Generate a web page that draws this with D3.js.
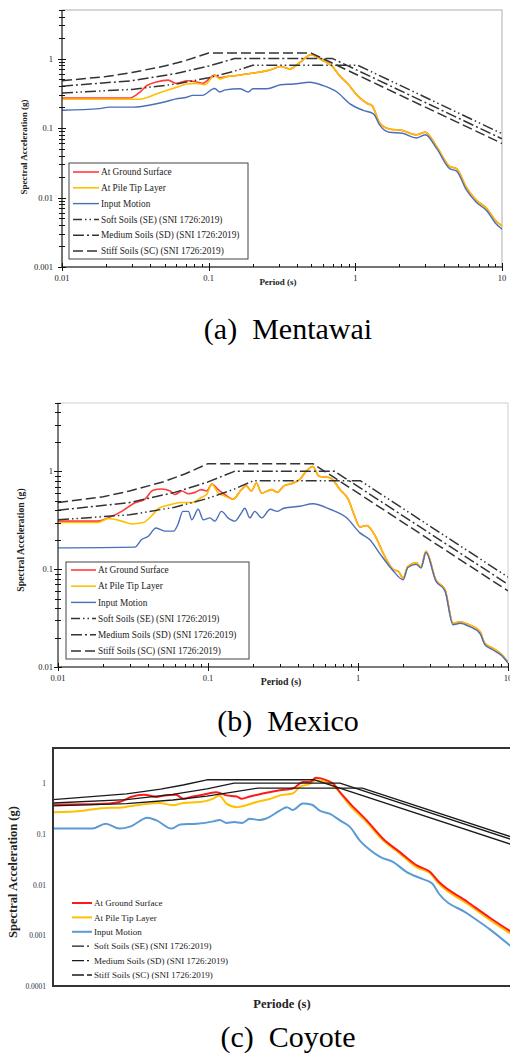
<!DOCTYPE html>
<html>
<head>
<meta charset="utf-8">
<script src="https://cdn.jsdelivr.net/npm/d3@7"></script>
<style>
  body { margin: 0; background: #fff; }
  svg { display: block; }
  text { font-family: "Liberation Serif", "Tinos", "DejaVu Serif", serif; }
</style>
</head>
<body>
<script>
// ---- data: [period (s), spectral acceleration (g)] ----
var mentawaiSurface = [[0.01,0.27],[0.029,0.27],[0.034,0.33],[0.038,0.41],[0.044,0.46],[0.053,0.49],[0.06,0.44],[0.072,0.48],[0.083,0.46],[0.091,0.44],[0.11,0.58],[0.119,0.53],
  [0.133,0.55],[0.155,0.57],[0.18,0.6],[0.22,0.635],[0.25,0.67],[0.275,0.71],[0.31,0.77],[0.36,0.71],[0.42,0.885],[0.5,1.14],[0.6,0.94],[0.69,0.79],[0.78,0.57],[0.89,0.43],[1.04,0.29],[1.2,0.227],[1.3,0.21],[1.47,0.117],[1.7,0.097],[2.1,0.092],[2.6,0.08],[3.0,0.087],[3.6,0.053],[4.4,0.028],[4.9,0.026],[5.7,0.0141],[6.7,0.0091],[7.9,0.0069],[9.0,0.0047],[10,0.0039]];
var mentawaiPileTip = [[0.01,0.26],[0.03,0.26],[0.034,0.26],[0.038,0.275],[0.044,0.31],[0.052,0.35],[0.06,0.385],[0.071,0.43],[0.083,0.44],[0.094,0.42],[0.11,0.57],[0.119,0.51],
  [0.133,0.55],[0.155,0.57],[0.18,0.6],[0.22,0.635],[0.25,0.67],[0.275,0.71],[0.31,0.77],[0.36,0.71],[0.42,0.885],[0.5,1.14],[0.6,0.94],[0.69,0.79],[0.78,0.57],[0.89,0.43],[1.04,0.29],[1.2,0.227],[1.3,0.21],[1.47,0.117],[1.7,0.097],[2.1,0.092],[2.6,0.08],[3.0,0.087],[3.6,0.053],[4.4,0.028],[4.9,0.026],[5.7,0.0141],[6.7,0.0091],[7.9,0.0069],[9.0,0.0047],[10,0.0039]];
var mentawaiInput = [[0.01,0.18],[0.018,0.19],[0.021,0.2],[0.031,0.2],[0.04,0.215],[0.049,0.235],[0.06,0.263],[0.071,0.277],[0.078,0.295],[0.09,0.295],[0.11,0.37],[0.119,0.33],[0.13,0.354],[0.164,0.367],[0.186,0.33],[0.2,0.367],[0.25,0.367],[0.31,0.42],[0.38,0.43],[0.49,0.456],[0.6,0.41],[0.75,0.33],[0.92,0.223],[1.13,0.18],[1.33,0.16],[1.47,0.109],[1.7,0.087],[2.1,0.084],[2.6,0.072],[3.0,0.08],[3.6,0.05],[4.4,0.026],[4.9,0.024],[5.7,0.013],[6.7,0.0085],[7.9,0.0064],[9.0,0.0043],[10,0.0035]];

var mexicoSurface = [[0.01,0.31],[0.0185,0.31],[0.0216,0.335],[0.0266,0.39],[0.0326,0.477],[0.038,0.52],[0.043,0.64],[0.049,0.66],[0.056,0.63],[0.06,0.58],[0.067,0.63],[0.074,0.59],[0.082,0.61],[0.09,0.65],[0.098,0.63],[0.106,0.74],[0.117,0.65],[0.129,0.58],[0.147,0.52],
  [0.167,0.65],[0.18,0.71],[0.195,0.63],[0.21,0.76],[0.228,0.6],[0.265,0.65],[0.29,0.61],[0.32,0.71],[0.37,0.76],[0.41,0.83],[0.45,1.0],[0.5,1.12],[0.55,0.89],[0.65,0.86],[0.76,0.65],[0.86,0.52],[0.93,0.38],[1.03,0.27],[1.14,0.28],[1.3,0.22],[1.47,0.146],[1.72,0.099],[1.86,0.095],[2.0,0.081],[2.15,0.107],[2.44,0.116],[2.63,0.105],[2.84,0.152],[3.3,0.078],[3.8,0.062],[4.3,0.028],[4.8,0.029],[5.5,0.027],[6.5,0.023],[7.0,0.0175],[7.9,0.0156],[9.1,0.0133],[10,0.0112]];
var mexicoPileTip = [[0.01,0.3],[0.0185,0.3],[0.0216,0.33],[0.0266,0.31],[0.031,0.29],[0.037,0.3],[0.042,0.35],[0.047,0.42],[0.057,0.46],[0.067,0.48],[0.078,0.48],[0.09,0.54],[0.098,0.58],[0.106,0.74],[0.117,0.6],[0.129,0.56],[0.147,0.52],
  [0.167,0.65],[0.18,0.71],[0.195,0.63],[0.21,0.76],[0.228,0.6],[0.265,0.65],[0.29,0.61],[0.32,0.71],[0.37,0.76],[0.41,0.83],[0.45,1.0],[0.5,1.12],[0.55,0.89],[0.65,0.86],[0.76,0.65],[0.86,0.52],[0.93,0.38],[1.03,0.27],[1.14,0.28],[1.3,0.22],[1.47,0.146],[1.72,0.099],[1.86,0.095],[2.0,0.081],[2.15,0.107],[2.44,0.116],[2.63,0.105],[2.84,0.152],[3.3,0.078],[3.8,0.062],[4.3,0.028],[4.8,0.029],[5.5,0.027],[6.5,0.023],[7.0,0.0175],[7.9,0.0156],[9.1,0.0133],[10,0.0112]];
var mexicoInput = [[0.01,0.165],[0.0326,0.168],[0.036,0.2],[0.04,0.217],[0.045,0.264],[0.052,0.245],[0.059,0.245],[0.063,0.286],[0.068,0.39],[0.074,0.39],[0.078,0.32],[0.086,0.41],[0.093,0.32],[0.103,0.335],[0.111,0.31],[0.123,0.39],[0.136,0.335],[0.151,0.31],[0.167,0.377],[0.176,0.42],[0.19,0.335],[0.205,0.39],[0.228,0.335],[0.26,0.41],[0.29,0.39],[0.32,0.42],[0.41,0.44],[0.5,0.467],[0.65,0.41],[0.84,0.335],[1.03,0.235],[1.2,0.2],[1.39,0.146],[1.72,0.096],[2.0,0.078],[2.15,0.104],[2.44,0.112],[2.63,0.103],[2.84,0.148],[3.3,0.076],[3.8,0.06],[4.3,0.027],[4.8,0.028],[5.5,0.026],[6.5,0.022],[7.0,0.017],[7.9,0.015],[9.1,0.013],[10,0.011]];

var coyoteSurface = [[0.01,0.38],[0.02,0.39],[0.027,0.43],[0.032,0.54],[0.039,0.6],[0.047,0.54],[0.053,0.58],[0.063,0.6],[0.07,0.5],[0.081,0.55],[0.099,0.62],[0.115,0.67],[0.134,0.58],[0.156,0.55],[0.168,0.5],[0.19,0.55],[0.23,0.63],[0.297,0.73],[0.36,0.79],[0.42,1.06],[0.465,1.06],[0.51,1.29],[0.6,1.15],[0.66,0.99],[0.73,0.67],[0.85,0.4],[1.09,0.186],[1.39,0.081],[1.79,0.044],[2.3,0.024],[2.8,0.018],[3.2,0.0114],[4.9,0.0046],[6.9,0.0022],[10,0.00105]];
var coyotePileTip = [[0.01,0.27],[0.0157,0.29],[0.02,0.32],[0.029,0.34],[0.037,0.38],[0.049,0.41],[0.06,0.37],[0.07,0.41],[0.09,0.43],[0.11,0.5],[0.12,0.58],[0.134,0.4],[0.156,0.34],[0.18,0.37],[0.21,0.43],[0.26,0.5],[0.297,0.58],[0.36,0.63],[0.4,0.85],[0.465,0.98],[0.51,1.15],[0.6,1.06],[0.69,0.79],[0.85,0.36],[1.09,0.17],[1.39,0.075],[1.79,0.041],[2.3,0.022],[2.8,0.017],[3.2,0.0105],[4.9,0.0042],[6.9,0.002],[10,0.00095]];
var coyoteInput = [[0.01,0.128],[0.018,0.128],[0.022,0.16],[0.027,0.128],[0.032,0.142],[0.041,0.21],[0.047,0.186],[0.059,0.128],[0.067,0.155],[0.086,0.16],[0.11,0.178],[0.121,0.19],[0.134,0.165],[0.15,0.172],[0.168,0.165],[0.19,0.2],[0.22,0.19],[0.24,0.2],[0.297,0.29],[0.33,0.34],[0.36,0.3],[0.42,0.4],[0.48,0.38],[0.54,0.29],[0.63,0.25],[0.73,0.186],[0.85,0.137],[0.98,0.075],[1.15,0.048],[1.34,0.035],[1.62,0.028],[1.97,0.018],[2.5,0.013],[2.9,0.0106],[3.2,0.0067],[4.9,0.0027],[6.9,0.0013],[10,0.00052]];

// SNI 1726:2019 design spectra
var designSoft = [[0.01,0.32],[0.03,0.36],[0.06,0.43],[0.1,0.53],[0.15,0.66],[0.2,0.8],[1.04,0.8],[10,0.083]];
var designMedium = [[0.01,0.4],[0.03,0.48],[0.06,0.61],[0.1,0.78],[0.15,1.0],[0.7,1.0],[10,0.07]];
var designStiff = [[0.01,0.48],[0.02,0.55],[0.03,0.63],[0.05,0.78],[0.07,0.94],[0.1,1.2],[0.5,1.2],[10,0.06]];
var coyoteSoft = [[0.01,0.36],[0.03,0.4],[0.06,0.47],[0.1,0.56],[0.15,0.68],[0.215,0.81],[1.02,0.81],[10,0.083]];
var coyoteMedium = [[0.01,0.41],[0.03,0.48],[0.06,0.61],[0.1,0.78],[0.15,1.01],[0.73,1.01],[10,0.074]];
var coyoteStiff = [[0.01,0.48],[0.03,0.62],[0.05,0.77],[0.07,0.93],[0.1,1.18],[0.5,1.18],[10,0.059]];

var legendLabels = ["At Ground Surface", "At Pile Tip Layer", "Input Motion",
  "Soft Soils (SE) (SNI 1726:2019)", "Medium Soils (SD) (SNI 1726:2019)", "Stiff Soils (SC) (SNI 1726:2019)"];
var xTickValues = [0.01, 0.1, 1, 10];
var captions = ["(a)  Mentawai", "(b)  Mexico", "(c)  Coyote"];

var width = 510, height = 1053;

var svg = d3.select("body").append("svg")
    .attr("width", width)
    .attr("height", height)
    .attr("viewBox", [0, 0, width, height]);

var dashSE = "11,3,1.5,3,1.5,3", dashSD = "11,3,2,3", dashSC = "10,4";

function isMajor(d) {
  var l = Math.log10(d);
  return Math.abs(l - Math.round(l)) < 1e-6;
}

function drawPanel(p, idx) {
  var x = d3.scaleLog().domain([0.01, 10]).range([p.left, p.right]);
  var y = d3.scaleLog().domain([p.yMin, 5]).range([p.bottom, p.top]);
  var g = svg.append("g");

  g.append("clipPath").attr("id", "clip" + idx)
    .append("rect")
      .attr("x", p.left).attr("y", p.top)
      .attr("width", Math.min(p.right, width) - p.left)
      .attr("height", p.bottom - p.top);

  // frame
  g.append("rect")
      .attr("x", p.left).attr("y", p.top)
      .attr("width", p.right - p.left).attr("height", p.bottom - p.top)
      .attr("fill", "none")
      .attr("stroke", p.frameColor)
      .attr("stroke-width", p.frameWidth);

  var line = d3.line()
      .x(d => x(d[0]))
      .y(d => y(d[1]));

  var plot = g.append("g").attr("clip-path", "url(#clip" + idx + ")");

  // drawing order can differ from legend order
  p.order.forEach(function(k) {
    var s = p.series[k];
    plot.append("path")
        .datum(s.data)
        .attr("fill", "none")
        .attr("stroke", s.color)
        .attr("stroke-width", s.width)
        .attr("stroke-dasharray", s.dash || null)
        .attr("stroke-linejoin", "round")
        .attr("d", line.curve(s.curve ? d3.curveMonotoneX : d3.curveLinear));
  });

  // axes
  if (p.ticks) {
    var ax = g.append("g").attr("stroke", "#111").attr("stroke-width", 1);
    ax.append("line").attr("x1", p.left).attr("x2", p.left).attr("y1", p.top).attr("y2", p.bottom);
    ax.append("line").attr("x1", p.left).attr("x2", Math.min(p.right, width)).attr("y1", p.bottom).attr("y2", p.bottom);
    ax.selectAll(".yt").data(y.ticks()).join("line")
        .attr("x1", d => p.left - (isMajor(d) ? 4 : 3))
        .attr("x2", d => p.left + (isMajor(d) ? 4 : 3))
        .attr("y1", d => Math.round(y(d)) + 0.5)
        .attr("y2", d => Math.round(y(d)) + 0.5);
    ax.selectAll(".xt").data(x.ticks()).join("line")
        .attr("x1", d => Math.round(x(d)) + 0.5)
        .attr("x2", d => Math.round(x(d)) + 0.5)
        .attr("y1", d => p.bottom - (isMajor(d) ? 4 : 3))
        .attr("y2", d => p.bottom + (isMajor(d) ? 4 : 0));
    g.append("g")
        .attr("font-size", p.tickFont).attr("fill", "#222")
      .selectAll("text").data(xTickValues).join("text")
        .attr("x", d => x(d))
        .attr("y", p.bottom + p.xLabelOffset)
        .attr("text-anchor", "middle")
        .text(d => d3.format("~g")(d));
  } else {
    g.append("line")
        .attr("x1", p.left).attr("x2", p.left).attr("y1", p.top).attr("y2", p.bottom)
        .attr("stroke", p.frameColor).attr("stroke-width", p.frameWidth);
  }

  g.append("g")
      .attr("font-size", p.tickFont).attr("fill", p.tickColor)
    .selectAll("text").data(y.ticks().filter(isMajor)).join("text")
      .attr("x", p.left - p.yLabelGap)
      .attr("y", d => y(d) + 3)
      .attr("text-anchor", "end")
      .text(d => d3.format("~g")(d));

  // axis titles
  g.append("text")
      .attr("transform", "translate(" + p.yTitleX + "," + p.yTitleY + ") rotate(-90)")
      .attr("text-anchor", "middle")
      .attr("font-weight", "bold")
      .attr("font-size", p.titleFont).attr("fill", "#222")
      .text("Spectral Acceleration (g)");
  g.append("text")
      .attr("x", p.xTitleX).attr("y", p.xTitleY)
      .attr("text-anchor", "middle")
      .attr("font-weight", "bold")
      .attr("font-size", p.titleFont).attr("fill", "#222")
      .text(p.xTitle);

  // legend
  var L = p.legend;
  if (L.box) {
    g.append("rect")
        .attr("x", L.box[0]).attr("y", L.box[1])
        .attr("width", L.box[2]).attr("height", L.box[3])
        .attr("fill", "#fff").attr("stroke", "#444").attr("stroke-width", 1);
  }
  var items = g.append("g").selectAll("g").data(p.series).join("g")
      .attr("transform", (d, i) => "translate(0," + (L.y0 + i * L.step) + ")");
  items.append("line")
      .attr("x1", L.x0).attr("x2", L.x1)
      .attr("stroke", d => d.color)
      .attr("stroke-width", d => d.width)
      .attr("stroke-dasharray", d => d.legendDash || null);
  items.append("text")
      .attr("x", L.x1 + 2).attr("y", 3.2)
      .attr("font-size", L.font).attr("fill", "#222")
      .text((d, i) => legendLabels[i]);

  // caption
  svg.append("text")
      .attr("x", p.capX).attr("y", p.capY)
      .attr("text-anchor", "middle")
      .attr("font-size", 30)
      .style("white-space", "pre")
      .text(captions[idx]);
}

var redAB = "#ff3b3b", yellowAB = "#ffc000", blueAB = "#4a6fb8";

drawPanel({
  left: 62, right: 502, top: 10, bottom: 267, yMin: 0.001,
  frameColor: "#999", frameWidth: 0.8, ticks: true,
  tickFont: 8.5, tickColor: "#222", yLabelGap: 9, xLabelOffset: 14,
  titleFont: 9, yTitleX: 27, yTitleY: 147, xTitleX: 278, xTitleY: 285, xTitle: "Period (s)",
  legend: { box: [69, 163, 179, 96], x0: 73, x1: 99, y0: 172, step: 15.8, font: 9.3 },
  capX: 288, capY: 339,
  order: [0, 1, 2, 3, 4, 5],
  series: [
    { data: mentawaiSurface, color: redAB, width: 1.6, curve: true },
    { data: mentawaiPileTip, color: yellowAB, width: 1.6, curve: true },
    { data: mentawaiInput, color: blueAB, width: 1.4, curve: true },
    { data: designSoft, color: "#333", width: 1.5, dash: dashSE, legendDash: "9,3,1.5,3,1.5,3" },
    { data: designMedium, color: "#333", width: 1.5, dash: dashSD, legendDash: "11,3,2,3" },
    { data: designStiff, color: "#333", width: 1.5, dash: dashSC, legendDash: "10,4" }
  ]
}, 0);

drawPanel({
  left: 58, right: 508, top: 403, bottom: 667, yMin: 0.01,
  frameColor: "#c4c4c4", frameWidth: 0.8, ticks: true,
  tickFont: 8.5, tickColor: "#222", yLabelGap: 5, xLabelOffset: 14,
  titleFont: 9.8, yTitleX: 24, yTitleY: 540, xTitleX: 281, xTitleY: 685, xTitle: "Period (s)",
  legend: { box: [66, 562, 183, 97], x0: 71, x1: 96, y0: 570, step: 16.2, font: 9.3 },
  capX: 288, capY: 731,
  order: [0, 1, 2, 3, 4, 5],
  series: [
    { data: mexicoSurface, color: redAB, width: 1.6, curve: true },
    { data: mexicoPileTip, color: yellowAB, width: 1.6, curve: true },
    { data: mexicoInput, color: blueAB, width: 1.4, curve: true },
    { data: designSoft, color: "#333", width: 1.5, dash: dashSE, legendDash: "9,3,1.5,3,1.5,3" },
    { data: designMedium, color: "#333", width: 1.5, dash: dashSD, legendDash: "11,3,2,3" },
    { data: designStiff, color: "#333", width: 1.5, dash: dashSC, legendDash: "10,4" }
  ]
}, 1);

drawPanel({
  left: 53, right: 515, top: 748, bottom: 986, yMin: 0.0001,
  frameColor: "#333", frameWidth: 2, ticks: false,
  tickFont: 7.5, tickColor: "#2a2a44", yLabelGap: 7,
  titleFont: 12.5, yTitleX: 17, yTitleY: 872, xTitleX: 282, xTitleY: 1008, xTitle: "Periode (s)",
  legend: { box: null, x0: 72, x1: 92, y0: 903, step: 14.4, font: 9 },
  capX: 288, capY: 1047,
  order: [1, 0, 2, 3, 4, 5],
  series: [
    { data: coyoteSurface, color: "#ff1a1a", width: 2, curve: true },
    { data: coyotePileTip, color: "#ffc000", width: 2, curve: true },
    { data: coyoteInput, color: "#5b9bd5", width: 2, curve: true },
    { data: coyoteSoft, color: "#1a1a1a", width: 1.3, legendDash: "12,3,2,30" },
    { data: coyoteMedium, color: "#1a1a1a", width: 1.3, legendDash: "12,3,2,30" },
    { data: coyoteStiff, color: "#1a1a1a", width: 1.3, legendDash: "12,3,5,30" }
  ]
}, 2);
</script>
</body>
</html>
